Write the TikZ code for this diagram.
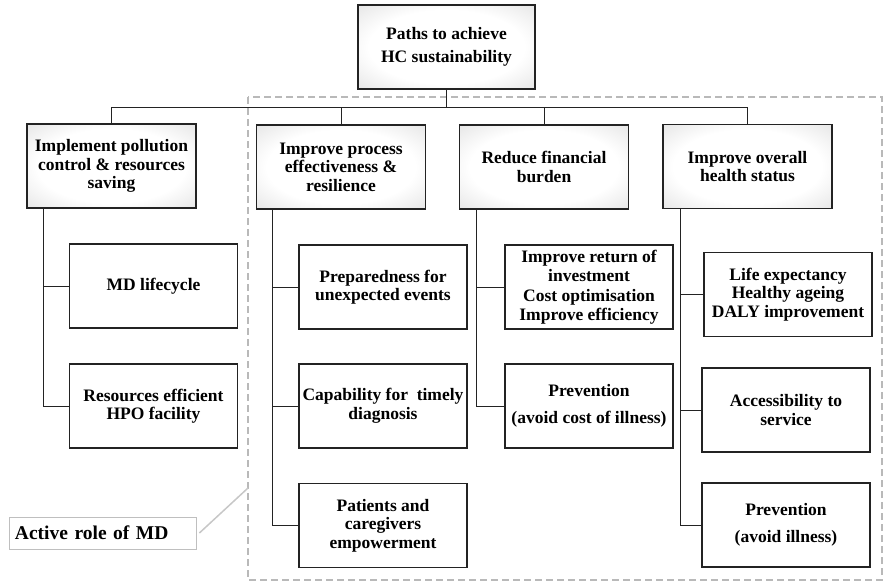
\documentclass[tikz,border=0pt]{standalone}
\usepackage{fontspec}
\setmainfont{Liberation Serif}
\usetikzlibrary{positioning}
\definecolor{hcline}{RGB}{35,35,35}
\definecolor{hcdash}{RGB}{185,185,185}
\pgfdeclareradialshading{hcglow}{\pgfpoint{0bp}{0bp}}{color(0bp)=(white); color(22bp)=(white); color(50bp)=(black!20); color(71bp)=(black!32)}

\begin{document}
\begin{tikzpicture}[x=1pt, y=-1pt,
  every node/.style={font=\bfseries\fontsize{17.5}{18.5}\selectfont, align=center, inner sep=0pt},
  headbox/.style={draw=hcline, line width=1.1pt, shading=hcglow, minimum width=169pt, minimum height=84pt},
  itembox/.style={draw=hcline, line width=1.1pt, fill=white, minimum width=168pt, minimum height=84pt},
  link/.style={draw=hcline, line width=0.8pt}]
  \useasboundingbox (0,0) rectangle (884,582);
  \draw[hcdash, line width=2pt, dash pattern=on 7pt off 4pt] (248,97) rectangle (882,580);

  \node[headbox, minimum width=177pt, font=\bfseries\fontsize{17.5}{22.5}\selectfont] (root) at (446.5,47) {Paths to achieve\\HC sustainability};
  \node[headbox] (impl) at (111.5,166) {Implement pollution\\control \& resources\\saving};
  \node[headbox] (proc) at (341,167) {Improve process\\effectiveness \&\\resilience};
  \node[headbox] (fin) at (544,167) {Reduce financial\\burden};
  \node[headbox] (health) at (747.5,166.5) {Improve overall\\health status};

  \node[itembox] (mdlife) at (153.5,286) {MD lifecycle};
  \node[itembox] (hpo) at (153.5,406) {Resources efficient\\HPO facility};
  \node[itembox] (prep) at (383,287) {Preparedness for\\unexpected events};
  \node[itembox] (diag) at (383,406) {Capability for~~timely\\diagnosis};
  \node[itembox] (empow) at (383,525.5) {Patients and\\caregivers\\empowerment};
  \node[itembox, font=\bfseries\fontsize{17.5}{19.5}\selectfont] (roi) at (589,287) {Improve return of\\investment\\Cost optimisation\\Improve efficiency};
  \node[itembox] (costill) at (589,406) {Prevention\\[8pt](avoid cost of illness)};
  \node[itembox] (life) at (788,294.5) {Life expectancy\\Healthy ageing\\DALY improvement};
  \node[itembox] (access) at (786,410) {Accessibility to\\service};
  \node[itembox] (previll) at (786,525) {Prevention\\[8pt](avoid illness)};

  \draw[link] (root.south) -- ++(0,18) coordinate (bus);
  \draw[link] (impl.north) |- (bus) -| (health.north);
  \draw[link] (proc.north) -- (proc.north |- bus);
  \draw[link] (fin.north) -- (fin.north |- bus);

  \draw[link] ([xshift=17pt]impl.south west) |- (mdlife.west);
  \draw[link] ([xshift=17pt]impl.south west) |- (hpo.west);
  \draw[link] ([xshift=16pt]proc.south west) |- (prep.west);
  \draw[link] ([xshift=16pt]proc.south west) |- (diag.west);
  \draw[link] ([xshift=16pt]proc.south west) |- (empow.west);
  \draw[link] ([xshift=17pt]fin.south west) |- (roi.west);
  \draw[link] ([xshift=17pt]fin.south west) |- (costill.west);
  \draw[link] ([xshift=18pt]health.south west) |- (life.west);
  \draw[link] ([xshift=18pt]health.south west) |- (access.west);
  \draw[link] ([xshift=18pt]health.south west) |- (previll.west);

  \node[draw=black!25, line width=0.8pt, minimum width=187pt, minimum height=32pt, text width=175pt, align=left, font=\bfseries\fontsize{19.5}{22}\selectfont] (role) at (102.5,533) {Active role of MD};
  \coordinate (roleend) at (248,488);
  \draw[black!22, line width=1.5pt] ([xshift=3pt]role.east) -- (roleend);
\end{tikzpicture}
\end{document}
